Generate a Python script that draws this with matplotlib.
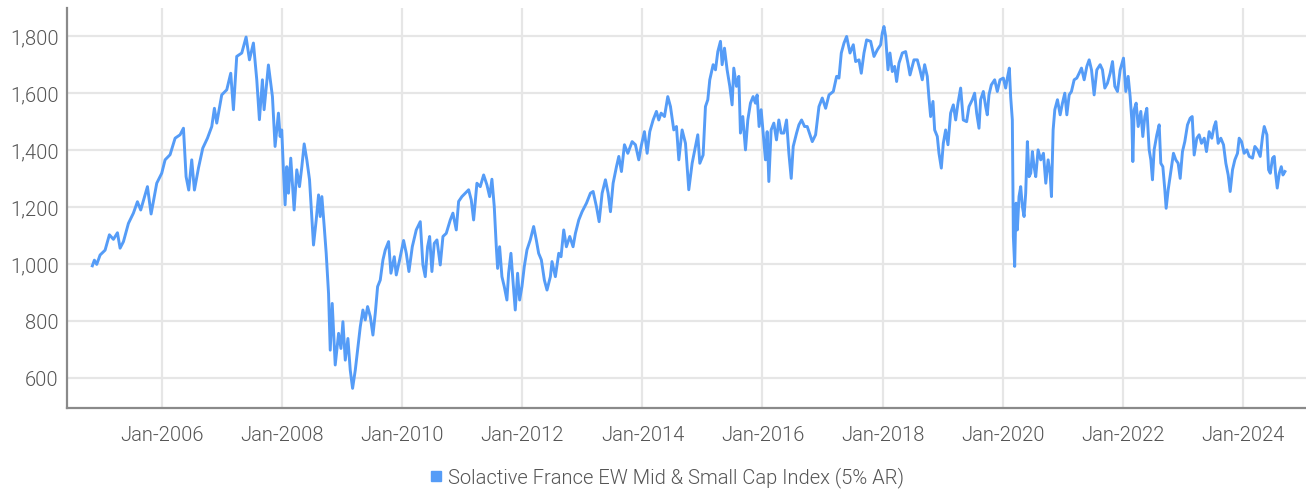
import matplotlib
matplotlib.use("Agg")
import matplotlib.pyplot as plt
import matplotlib.dates as mdates
from matplotlib.ticker import FuncFormatter
from matplotlib.lines import Line2D
import pandas as pd
import numpy as np

series_name = "Solactive France EW Mid & Small Cap Index (5% AR)"

# decimal-year positions
years = [
    2004.838, 2004.872, 2004.911, 2004.967, 2005.05, 2005.122, 2005.189, 2005.256, 2005.30, 2005.356,
    2005.439, 2005.522, 2005.589, 2005.644, 2005.756, 2005.817, 2005.911, 2005.994, 2006.05, 2006.133,
    2006.217, 2006.30, 2006.356, 2006.40, 2006.444, 2006.494, 2006.539, 2006.606, 2006.678, 2006.756,
    2006.828, 2006.872, 2006.911, 2006.994, 2007.078, 2007.144, 2007.189, 2007.244, 2007.328, 2007.40,
    2007.456, 2007.522, 2007.578, 2007.622, 2007.672, 2007.70, 2007.772, 2007.839, 2007.883, 2007.939,
    2007.967,
    2007.994, 2008.022, 2008.05, 2008.078, 2008.106, 2008.144, 2008.2, 2008.244, 2008.289, 2008.328,
    2008.367, 2008.411, 2008.456, 2008.494, 2008.522, 2008.567, 2008.606, 2008.633, 2008.661, 2008.7,
    2008.733, 2008.772, 2008.8, 2008.833, 2008.883, 2008.939, 2008.978, 2009.011, 2009.05, 2009.094,
    2009.133, 2009.172, 2009.217, 2009.256, 2009.3, 2009.344, 2009.383, 2009.422, 2009.467, 2009.511,
    2009.55, 2009.589, 2009.633, 2009.678, 2009.717, 2009.772, 2009.811, 2009.867, 2009.9, 2009.956,
    2010.022, 2010.067, 2010.111, 2010.167, 2010.233, 2010.3, 2010.344, 2010.383, 2010.422, 2010.456,
    2010.494, 2010.533, 2010.578, 2010.633, 2010.678, 2010.733, 2010.8, 2010.844, 2010.9, 2010.939,
    2010.994, 2011.05, 2011.106, 2011.15, 2011.189, 2011.244, 2011.3, 2011.356, 2011.411, 2011.456,
    2011.494, 2011.533, 2011.567, 2011.589, 2011.622, 2011.661, 2011.7, 2011.744, 2011.772, 2011.811,
    2011.844, 2011.883, 2011.922, 2011.956, 2011.994, 2012.033, 2012.078, 2012.133, 2012.189, 2012.233,
    2012.272, 2012.317, 2012.367, 2012.411, 2012.467, 2012.494, 2012.55, 2012.606, 2012.644, 2012.689,
    2012.733, 2012.789, 2012.844, 2012.883, 2012.939, 2012.994, 2013.067, 2013.133, 2013.178, 2013.233,
    2013.278, 2013.328, 2013.383, 2013.428, 2013.467, 2013.511, 2013.567, 2013.606, 2013.65, 2013.7,
    2013.756, 2013.828, 2013.883, 2013.939, 2013.978, 2014.033, 2014.078, 2014.122, 2014.178, 2014.233,
    2014.272, 2014.311, 2014.367, 2014.422, 2014.467, 2014.522, 2014.567, 2014.606, 2014.661, 2014.717,
    2014.772, 2014.828, 2014.883, 2014.922, 2014.956,
    2015.011, 2015.05, 2015.089, 2015.122, 2015.178, 2015.217, 2015.256, 2015.3, 2015.328, 2015.367,
    2015.411, 2015.456, 2015.494, 2015.522, 2015.567, 2015.606, 2015.633, 2015.672, 2015.717, 2015.756,
    2015.8, 2015.844, 2015.883, 2015.911, 2015.944, 2015.978, 2016.022, 2016.05, 2016.078, 2016.106,
    2016.144, 2016.189, 2016.233, 2016.272, 2016.311, 2016.356, 2016.4, 2016.439, 2016.478, 2016.511,
    2016.567, 2016.606, 2016.65, 2016.7, 2016.744, 2016.789, 2016.828, 2016.883, 2016.939, 2016.994,
    2017.05, 2017.106, 2017.178, 2017.233, 2017.272, 2017.311, 2017.356, 2017.4, 2017.456, 2017.511,
    2017.55, 2017.606, 2017.644, 2017.689, 2017.733, 2017.8, 2017.856, 2017.911, 2017.967, 2017.994,
    2018.022, 2018.05, 2018.089, 2018.122, 2018.161, 2018.2, 2018.233, 2018.272, 2018.328, 2018.383,
    2018.422, 2018.456,
    2018.522, 2018.578, 2018.622, 2018.661, 2018.7, 2018.744, 2018.772, 2018.8, 2018.839, 2018.867,
    2018.911, 2018.939, 2018.978, 2019.011, 2019.05, 2019.089, 2019.133, 2019.178, 2019.217, 2019.256,
    2019.3, 2019.344, 2019.4, 2019.439, 2019.494, 2019.533, 2019.567, 2019.606, 2019.633, 2019.678,
    2019.717, 2019.744, 2019.772, 2019.811, 2019.867, 2019.911, 2019.956, 2020.011, 2020.05, 2020.078,
    2020.111, 2020.133, 2020.161, 2020.178, 2020.2, 2020.222, 2020.244, 2020.272, 2020.3, 2020.328,
    2020.356, 2020.383, 2020.411, 2020.439, 2020.467, 2020.494, 2020.522, 2020.55, 2020.589, 2020.633,
    2020.678, 2020.717, 2020.756, 2020.789, 2020.811, 2020.839, 2020.867, 2020.911, 2020.956, 2020.994,
    2021.033, 2021.067, 2021.106, 2021.144, 2021.189, 2021.233, 2021.272, 2021.311, 2021.356, 2021.4,
    2021.439, 2021.478, 2021.522, 2021.567, 2021.622, 2021.661, 2021.7, 2021.744, 2021.789, 2021.828,
    2021.867, 2021.911, 2021.956,
    2022.011, 2022.05, 2022.089, 2022.122, 2022.15, 2022.167, 2022.189, 2022.222, 2022.256, 2022.3,
    2022.333, 2022.367, 2022.4, 2022.439, 2022.467, 2022.494, 2022.522, 2022.567, 2022.606, 2022.633,
    2022.667, 2022.7, 2022.722, 2022.756, 2022.8, 2022.844, 2022.883, 2022.922, 2022.956, 2022.994,
    2023.033, 2023.078, 2023.122, 2023.156, 2023.189, 2023.233, 2023.272, 2023.311, 2023.356, 2023.394,
    2023.439, 2023.483, 2023.522, 2023.55, 2023.589, 2023.633, 2023.678, 2023.717, 2023.756, 2023.789,
    2023.828, 2023.867, 2023.911, 2023.939, 2023.978, 2024.022, 2024.067, 2024.106, 2024.161, 2024.2,
    2024.244, 2024.289, 2024.328, 2024.356, 2024.4, 2024.428, 2024.456, 2024.494, 2024.522, 2024.544,
    2024.572, 2024.606, 2024.639, 2024.667, 2024.7,
]

values = [
    995, 1015, 1000, 1033, 1050, 1104, 1088, 1111, 1057, 1080,
    1144, 1180, 1220, 1191, 1273, 1177, 1285, 1320, 1367, 1385,
    1443, 1455, 1478, 1308, 1261, 1367, 1261, 1338, 1408, 1443,
    1484, 1548, 1496, 1595, 1613, 1671, 1543, 1730, 1742, 1798,
    1718, 1777, 1648, 1508, 1648, 1543, 1700, 1589, 1414, 1531,
    1449,
    1472, 1332, 1209, 1343, 1250, 1373, 1191, 1332, 1273, 1343,
    1423, 1367, 1297, 1168, 1068, 1156, 1244, 1168, 1238, 1133,
    1039, 898, 699, 863, 647, 758, 705, 799, 664, 740,
    629, 565, 629, 699, 781, 840, 805, 852, 817, 752,
    828, 922, 945, 1016, 1051, 1080, 969, 1027, 963, 1016,
    1084, 1039, 975, 1062, 1121, 1150, 998, 957, 1062, 1098,
    975, 1074, 1086, 998, 1098, 1109, 1156, 1180, 1121, 1221,
    1238, 1250, 1262, 1226, 1156, 1285, 1273, 1314, 1279, 1238,
    1299, 1203, 1062, 986, 1062, 957, 922, 875, 969, 1039,
    945, 840, 969, 875, 922, 992, 1051, 1086, 1133, 1086,
    1039, 1016, 945, 910, 957, 1010, 957, 1039, 1027, 1121,
    1062, 1098, 1062, 1109, 1156, 1185, 1215, 1250, 1256, 1203,
    1150, 1250, 1297, 1250, 1185, 1285, 1343, 1379, 1326, 1420,
    1390, 1431, 1420, 1367, 1414, 1466, 1390, 1466, 1507, 1537,
    1507, 1531, 1519, 1589, 1554, 1472, 1484, 1367, 1472, 1425,
    1262, 1355, 1414, 1455, 1355,
    1384, 1554, 1578, 1648, 1701, 1683, 1747, 1783, 1701, 1759,
    1683, 1625, 1560, 1689, 1625, 1660, 1461, 1519, 1402, 1507,
    1566, 1589, 1566, 1595, 1484, 1543, 1437, 1367, 1466, 1291,
    1472, 1496, 1437, 1507, 1461, 1461, 1507, 1390, 1302, 1414,
    1461, 1490, 1507, 1484, 1484, 1455, 1431, 1455, 1554, 1584,
    1548, 1595, 1607, 1660, 1654, 1742, 1777, 1800, 1742, 1771,
    1712, 1718, 1671, 1742, 1788, 1783, 1730, 1753, 1771, 1812,
    1835, 1800, 1683, 1742, 1677, 1695, 1642, 1706, 1742, 1747,
    1706, 1665,
    1718, 1718, 1683, 1648, 1701, 1660, 1584, 1519, 1572, 1472,
    1449, 1390, 1338, 1425, 1472, 1420, 1531, 1560, 1507, 1566,
    1619, 1507, 1501, 1554, 1578, 1601, 1531, 1478, 1578, 1607,
    1554, 1525, 1595, 1630, 1648, 1607, 1648, 1654, 1619, 1654,
    1689, 1589, 1507, 1098, 993, 1215, 1121, 1238, 1273, 1203,
    1168, 1250, 1431, 1308, 1320, 1396, 1343, 1308, 1402, 1367,
    1390, 1285, 1367, 1320, 1238, 1472, 1543, 1578, 1525, 1566,
    1601, 1525, 1595, 1607, 1648, 1654, 1671, 1689, 1648, 1695,
    1718, 1683, 1595, 1683, 1701, 1683, 1619, 1636, 1671, 1712,
    1625, 1607, 1683,
    1724, 1607, 1660, 1589, 1507, 1361, 1543, 1566, 1484, 1537,
    1449, 1519, 1548, 1402, 1367, 1297, 1402, 1455, 1490, 1355,
    1343, 1262, 1197, 1262, 1326, 1390, 1367, 1355, 1302, 1396,
    1431, 1490, 1513, 1519, 1384, 1443, 1455, 1425, 1443, 1396,
    1466, 1443, 1484, 1501, 1425, 1443, 1420, 1355, 1314, 1256,
    1332, 1367, 1390, 1443, 1431, 1390, 1402, 1379, 1373, 1414,
    1402, 1379, 1449, 1484, 1455, 1332, 1320, 1373, 1379, 1320,
    1268, 1320, 1343, 1314, 1326,
]

y_ticks = [600, 800, 1000, 1200, 1400, 1600, 1800]
x_tick_years = [2006, 2008, 2010, 2012, 2014, 2016, 2018, 2020, 2022, 2024]

LINE_COLOR = "#559cf7"
TEXT_COLOR = "#555555"
GRID_COLOR = "#e6e6e6"
SPINE_COLOR = "#8a8a8a"
FONT = ["Roboto", "DejaVu Sans"]


def decimal_year_to_date(y):
    yr = int(np.floor(y))
    start = pd.Timestamp(year=yr, month=1, day=1)
    end = pd.Timestamp(year=yr + 1, month=1, day=1)
    return start + (end - start) * (y - yr)


dates = [decimal_year_to_date(y) for y in years]

plt.rcParams["font.family"] = FONT
plt.rcParams["font.weight"] = 300
fig = plt.figure(figsize=(13.06, 4.93), dpi=100)
ax = fig.add_axes([67 / 1306, 1 - 408 / 493, 1 - 67 / 1306, 400 / 493])

ax.plot(dates, values, color=LINE_COLOR, linewidth=2.1, solid_joinstyle="round", zorder=3)

ax.set_ylim(496, 1900)
ax.set_xlim(decimal_year_to_date(2004.417), decimal_year_to_date(2025.05))
ax.set_yticks(y_ticks)
ax.yaxis.set_major_formatter(FuncFormatter(lambda v, p: f"{int(v):,}"))
ax.set_xticks([pd.Timestamp(year=y, month=1, day=1) for y in x_tick_years])
ax.xaxis.set_major_formatter(mdates.DateFormatter("%b-%Y"))

ax.grid(True, color=GRID_COLOR, linewidth=1.6, zorder=0)
ax.set_axisbelow(True)
for s in ["top", "right"]:
    ax.spines[s].set_visible(False)
for s in ["left", "bottom"]:
    ax.spines[s].set_color(SPINE_COLOR)
    ax.spines[s].set_linewidth(1.6)

ax.tick_params(axis="both", length=0, colors=TEXT_COLOR, labelsize=14.5)
ax.tick_params(axis="x", pad=13)
ax.tick_params(axis="y", pad=6)
for lab in ax.get_xticklabels() + ax.get_yticklabels():
    lab.set_fontweight(300)

handle = Line2D([], [], linestyle="none", marker="s", markersize=7,
                markerfacecolor=LINE_COLOR, markeredgecolor=LINE_COLOR)
leg = fig.legend([handle], [series_name], loc="center", bbox_to_anchor=(0.511, 0.031),
                 frameon=False, handlelength=0.6, handletextpad=0.3,
                 prop={"family": FONT, "size": 14.5, "weight": 300})
for t in leg.get_texts():
    t.set_color(TEXT_COLOR)

fig.savefig("out.png", dpi=100)
